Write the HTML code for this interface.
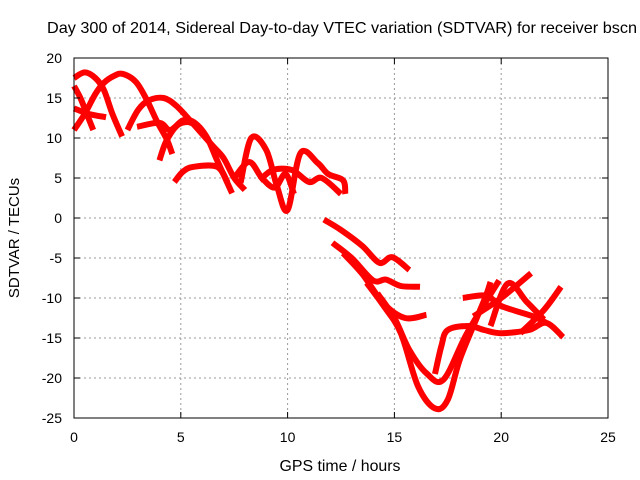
<!DOCTYPE html>
<html><head><meta charset="utf-8"><style>
body{margin:0;background:#fff}
svg{display:block;font-family:"Liberation Sans",sans-serif}
</style></head><body>
<svg id="c" width="640" height="480">
<rect width="640" height="480" fill="#fff"/>
<g id="grid"></g>
<g id="series"></g>
<rect x="74" y="58" width="534" height="360" fill="none" stroke="#000" stroke-width="1"/>
<g id="ticks"></g>
<text x="47" y="33" font-size="16" textLength="590" lengthAdjust="spacingAndGlyphs">Day 300 of 2014, Sidereal Day-to-day VTEC variation (SDTVAR) for receiver bscn</text>
<text x="340" y="471" font-size="16" text-anchor="middle" textLength="121" lengthAdjust="spacingAndGlyphs">GPS time / hours</text>
<text transform="translate(19,238) rotate(-90)" font-size="15" text-anchor="middle">SDTVAR / TECUs</text>
</svg>
<script>
const xTicks=[0,5,10,15,20,25];
const yTicks=[20,15,10,5,0,-5,-10,-15,-20,-25];
const arcA=[[0,17.5],[0.5,18.2],[1,17.5],[1.4,16],[1.8,13],[2.25,10.2]];
const arcB=[[0,11],[0.5,13],[1,15.5],[1.4,16.9],[1.9,17.8],[2.3,18],[2.9,17],[3.4,14.8],[3.9,12],[4.35,9.8],[4.6,8]];
const arcB2=[[4.0,7.2],[4.3,9.5],[4.8,11.5],[5.3,12],[5.8,11.5]];
const arcC=[[2.5,11],[3,13.5],[3.5,14.7],[4.2,15],[4.8,14],[5.5,12],[6,10.5],[6.5,9],[7,7.5],[7.5,5],[8,3.5]];
const arcD=[[0,13.7],[0.7,13],[1.5,12.6]];
const arcD2=[[0,16.5],[0.3,15],[0.6,13],[0.9,11]];
const arcE=[[2.95,11.4],[4,11.9],[4.5,11],[5.1,12.2],[5.6,12],[6.2,10.2],[6.7,7.2],[7.4,3.1]];
const arcF=[[4.7,4.5],[5.1,5.8],[5.6,6.4],[6.7,6.4],[7.2,4.4]];
const arcG=[[7.8,4.4],[8.3,10],[9,8.5],[9.5,4],[10,1],[10.6,8.1],[11.4,6.9],[11.9,5.5],[12.6,4.7],[12.7,3]];
const arcG2=[[8.7,4.7],[9.3,6],[10.2,6],[11,4.5],[11.6,5],[12.5,3]];
const arcG3=[[7.5,5],[8.2,7],[8.8,5],[9.4,3.8],[9.9,5.5],[10.3,3]];
const arcH=[[11.7,-0.2],[12.5,-1.5],[13.5,-3.5],[14.3,-5.6],[14.9,-4.9],[15.7,-6.5]];
const arcI=[[12.1,-3.1],[13,-5],[14,-7.8],[14.6,-7.7],[15.3,-8.5],[16.2,-8.6]];
const arcJ=[[12.6,-4.4],[13.5,-7],[14.5,-10.7],[15.5,-12.5],[16.5,-12.1]];
const arcK=[[13.7,-8.1],[14.5,-11],[15.3,-14.4],[16.1,-21],[16.9,-23.8],[17.5,-22.7],[18.1,-17.4],[19.2,-10.3],[19.5,-8]];
const arcL=[[14.2,-9.4],[15,-12.5],[15.7,-16.5],[16.5,-19.4],[17.3,-20.2],[18.4,-14.4],[19.9,-7.8]];
const arcM=[[16.9,-19.5],[17.2,-16],[17.5,-14],[18.5,-13.5],[19.2,-14],[20,-14.4],[21.3,-14],[22.1,-13.1],[22.9,-14.9]];
const arcN=[[18.2,-10],[19.3,-9.7],[20,-11],[21.5,-12.3],[22.1,-13.1]];
const arcO=[[18.7,-12.3],[20,-10],[21.4,-6.9]];
const arcP=[[20.9,-14.4],[22,-11.5],[22.8,-8.6]];
const arcQ=[[19.5,-13.5],[20.3,-8.2],[21.2,-10.5],[22,-12.7]];
const allSeries=[arcA,arcB,arcB2,arcC,arcD,arcD2,arcE,arcF,arcG,arcG2,arcG3,arcH,arcI,arcJ,arcK,arcL,arcM,arcN,arcO,arcP,arcQ];

const NS="http://www.w3.org/2000/svg";
const sx=v=>74+v*534/25;
const sy=v=>218-v*8;
const grid=document.getElementById('grid'),ticks=document.getElementById('ticks'),ser=document.getElementById('series');
function mk(tag,attrs,parent){const e=document.createElementNS(NS,tag);for(const k in attrs)e.setAttribute(k,attrs[k]);parent.appendChild(e);return e;}
xTicks.forEach(t=>{
  const x=sx(t);
  if(t>0&&t<25){const g=mk('line',{x1:x,x2:x,y1:58,y2:418,stroke:'#999','stroke-dasharray':'2,3'},grid);
  
  }
  mk('line',{x1:x,x2:x,y1:418,y2:412,stroke:'#000'},ticks);
  mk('line',{x1:x,x2:x,y1:58,y2:64,stroke:'#000'},ticks);
  const l=mk('text',{x:x,y:442,'font-size':14,'text-anchor':'middle'},ticks);
  l.textContent=t;
  
  
});
yTicks.forEach(t=>{
  const y=sy(t);
  if(t<20&&t>-25){const g=mk('line',{x1:74,x2:608,y1:y,y2:y,stroke:'#999','stroke-dasharray':'2,3'},grid);
  
  }
  mk('line',{x1:74,x2:80,y1:y,y2:y,stroke:'#000'},ticks);
  mk('line',{x1:602,x2:608,y1:y,y2:y,stroke:'#000'},ticks);
  const l=mk('text',{x:62,y:y+5,'font-size':14,'text-anchor':'end'},ticks);
  l.textContent=t;
  
  
});
function smooth(pts){
  let d='M'+pts[0][0]+','+pts[0][1];
  for(let i=0;i<pts.length-1;i++){
    const p0=pts[Math.max(0,i-1)],p1=pts[i],p2=pts[i+1],p3=pts[Math.min(pts.length-1,i+2)];
    const c1=[p1[0]+(p2[0]-p0[0])/6,p1[1]+(p2[1]-p0[1])/6];
    const c2=[p2[0]-(p3[0]-p1[0])/6,p2[1]-(p3[1]-p1[1])/6];
    d+=' C'+c1+' '+c2+' '+p2;
  }
  return d;
}
allSeries.forEach(s=>{
  const pts=s.map(d=>[sx(d[0]),sy(d[1])]);
  const p=mk('path',{d:smooth(pts),fill:'none',stroke:'#f00','stroke-width':6,'stroke-linejoin':'round','stroke-linecap':'butt'},ser);
  
  
});
</script>
</body></html>
